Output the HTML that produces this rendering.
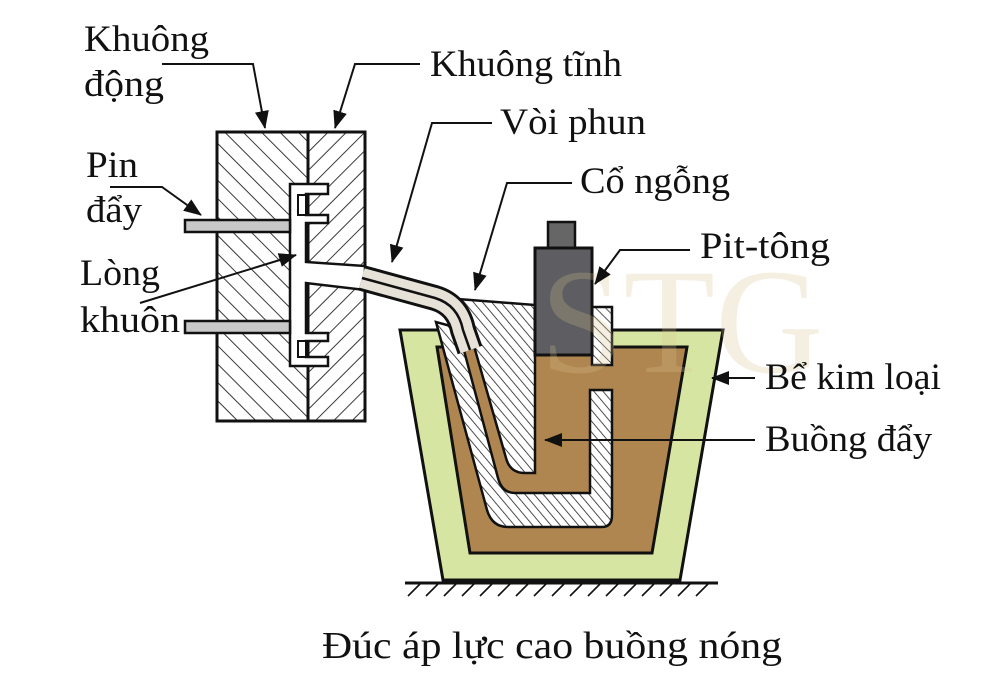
<!DOCTYPE html>
<html><head><meta charset="utf-8"><style>
html,body{margin:0;padding:0;background:#fff;}
svg{display:block;}
text{font-family:"Liberation Serif","Noto Serif CJK SC",serif;fill:#111;}
</style></head><body>
<svg width="1006" height="692" viewBox="0 0 1006 692" xmlns="http://www.w3.org/2000/svg">
<defs>
<pattern id="hL" width="13" height="13" patternUnits="userSpaceOnUse" patternTransform="rotate(-45)"><rect width="13" height="13" fill="#fff"/><line x1="0" y1="0" x2="0" y2="13" stroke="#222" stroke-width="1.8"/></pattern>
<pattern id="hR" width="13" height="13" patternUnits="userSpaceOnUse" patternTransform="rotate(45)"><rect width="13" height="13" fill="#fff"/><line x1="0" y1="0" x2="0" y2="13" stroke="#222" stroke-width="1.8"/></pattern>
<pattern id="hG" width="7" height="7" patternUnits="userSpaceOnUse" patternTransform="rotate(-40)"><rect width="7" height="7" fill="#fff"/><line x1="0" y1="0" x2="0" y2="7" stroke="#222" stroke-width="1.6"/></pattern>
<pattern id="hS" width="7" height="7" patternUnits="userSpaceOnUse" patternTransform="rotate(-45)"><rect width="7" height="7" fill="#fff"/><line x1="0" y1="0" x2="0" y2="7" stroke="#222" stroke-width="1.5"/></pattern>
<marker id="arB" markerWidth="18" markerHeight="16" refX="17" refY="8" orient="auto" markerUnits="userSpaceOnUse" viewBox="0 0 18 16"><path d="M0,1 L18,8 L0,15 Z" fill="#111"/></marker>
</defs>

<!-- Mold -->
<rect x="217" y="132" width="91" height="289" fill="url(#hL)" stroke="#111" stroke-width="3"/>
<rect x="308" y="132" width="57" height="289" fill="url(#hR)" stroke="#111" stroke-width="3"/>
<path d="M290 184 L328 184 L328 194 L306 194 L306 215 L328 215 L328 223 L306 223 L306 262 L365 266 L365 290 L306 283 L306 333 L328 333 L328 341 L306 341 L306 357 L328 357 L328 366 L290 366 Z" fill="#fff" stroke="#111" stroke-width="2.5"/>
<rect x="298" y="195" width="8" height="20" fill="#fff" stroke="#111" stroke-width="2"/>
<rect x="298" y="341" width="8" height="16" fill="#fff" stroke="#111" stroke-width="2"/>
<rect x="185" y="220" width="105" height="12" fill="#c8c8c8" stroke="#111" stroke-width="2.5"/>
<rect x="185" y="321" width="105" height="12" fill="#c8c8c8" stroke="#111" stroke-width="2.5"/>

<!-- crucible -->
<polygon points="400,330 723,330 680,580 443,580" fill="#d6e6a2" stroke="#111" stroke-width="3"/>
<polygon points="437,347 687,347 652,553 470,553" fill="#b08650" stroke="#111" stroke-width="3"/>
<line x1="405" y1="583" x2="718" y2="583" stroke="#111" stroke-width="3"/>
<g stroke="#111" stroke-width="1.6">
<line x1="420" y1="584" x2="408" y2="596"/><line x1="438" y1="584" x2="426" y2="596"/><line x1="456" y1="584" x2="444" y2="596"/><line x1="474" y1="584" x2="462" y2="596"/><line x1="492" y1="584" x2="480" y2="596"/><line x1="510" y1="584" x2="498" y2="596"/><line x1="528" y1="584" x2="516" y2="596"/><line x1="546" y1="584" x2="534" y2="596"/><line x1="564" y1="584" x2="552" y2="596"/><line x1="582" y1="584" x2="570" y2="596"/><line x1="600" y1="584" x2="588" y2="596"/><line x1="618" y1="584" x2="606" y2="596"/><line x1="636" y1="584" x2="624" y2="596"/><line x1="654" y1="584" x2="642" y2="596"/><line x1="672" y1="584" x2="660" y2="596"/><line x1="690" y1="584" x2="678" y2="596"/><line x1="708" y1="584" x2="696" y2="596"/>
</g>

<!-- gooseneck -->
<path d="M436 322 L487 510 Q492 527 508 527 L602 527 Q612 527 612 515 L612 390 L590 390 L590 493 L515 493 Q502 493 498 478 L458 328 Z" fill="url(#hG)" stroke="#111" stroke-width="2.5"/>
<path d="M445 298 L535 305 L535 473 L525 473 Q510 473 506 458 L466 318 Z" fill="url(#hG)" stroke="#111" stroke-width="2.5"/>
<rect x="592" y="307" width="20" height="58" fill="url(#hS)" stroke="#111" stroke-width="2.5"/>
<rect x="548" y="222" width="27" height="28" fill="#666" stroke="#111" stroke-width="2.5"/>
<rect x="535" y="248" width="57" height="107" fill="#5e5e62" stroke="#111" stroke-width="3"/>

<!-- nozzle -->
<path d="M362 278 L435 298 Q458 305 463 330 L470 350" fill="none" stroke="#111" stroke-width="26"/>
<path d="M362 278 L435 298 Q458 305 463 330 L470 350" fill="none" stroke="#e6e2d8" stroke-width="20"/>
<path d="M362 278 L435 298 Q458 305 463 330 L470 350" fill="none" stroke="#111" stroke-width="2.5"/>

<g opacity="0.25">
<text x="540" y="372" font-size="150" style="fill:#d8c390">STG</text>
</g>

<!-- leaders -->
<g fill="none" stroke="#111" stroke-width="2">
<polyline points="162,64 253,64 265,128" marker-end="url(#arB)"/>
<polyline points="420,64 355,64 335,128" marker-end="url(#arB)"/>
<polyline points="492,123 432,123 392,262" marker-end="url(#arB)"/>
<polyline points="572,183 507,183 475,290" marker-end="url(#arB)"/>
<polyline points="690,250 620,250 595,284" marker-end="url(#arB)"/>
<polyline points="110,187 162,187 201,215" marker-end="url(#arB)"/>
<polyline points="140,303 296,255" marker-end="url(#arB)"/>
<line x1="755" y1="378" x2="712" y2="378" marker-end="url(#arB)"/>
<line x1="755" y1="440" x2="545" y2="440" marker-end="url(#arB)"/>
</g>

<g font-size="37">
<text x="84" y="51" textLength="125" lengthAdjust="spacingAndGlyphs">Khuông</text>
<text x="84" y="96" textLength="80" lengthAdjust="spacingAndGlyphs">động</text>
<text x="430" y="76" textLength="192" lengthAdjust="spacingAndGlyphs">Khuông tĩnh</text>
<text x="500" y="134" textLength="146" lengthAdjust="spacingAndGlyphs">Vòi phun</text>
<text x="580" y="193" textLength="150" lengthAdjust="spacingAndGlyphs">Cổ ngỗng</text>
<text x="86" y="177" textLength="52" lengthAdjust="spacingAndGlyphs">Pin</text>
<text x="86" y="222" textLength="56" lengthAdjust="spacingAndGlyphs">đẩy</text>
<text x="80" y="285" textLength="80" lengthAdjust="spacingAndGlyphs">Lòng</text>
<text x="80" y="332" textLength="100" lengthAdjust="spacingAndGlyphs">khuôn</text>
<text x="700" y="258" textLength="130" lengthAdjust="spacingAndGlyphs">Pit-tông</text>
<text x="765" y="389" textLength="176" lengthAdjust="spacingAndGlyphs">Bể kim loại</text>
<text x="765" y="451" textLength="167" lengthAdjust="spacingAndGlyphs">Buồng đẩy</text>
</g>
<text x="322" y="658" font-size="38" textLength="460" lengthAdjust="spacingAndGlyphs">Đúc áp lực cao buồng nóng</text>
</svg>
</body></html>
